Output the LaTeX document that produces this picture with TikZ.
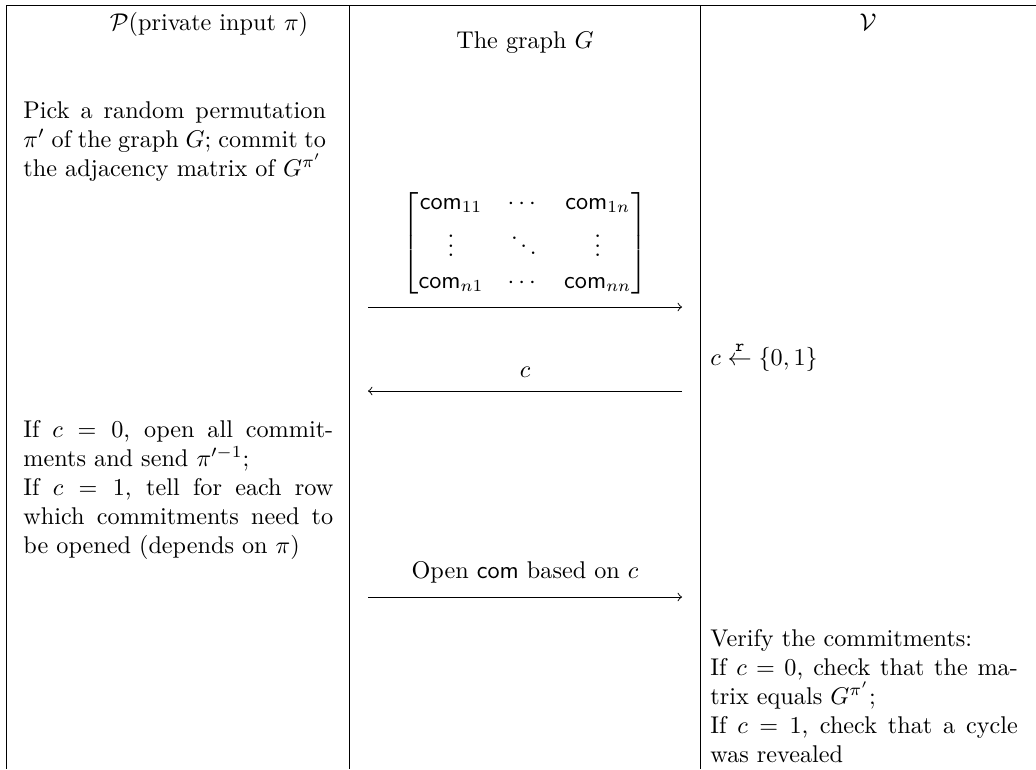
\documentclass[tikz,border=0pt]{standalone}
\usepackage{amsmath}
\usetikzlibrary{positioning}
\tikzset{
  step text/.style={inner sep=0pt, align=justify, anchor=north west},
  msg/.style={->, >=to},
}
\begin{document}
\begin{tikzpicture}[x=0.4132pt, y=-0.4132pt, line width=0.4pt]
  \useasboundingbox (0,0) rectangle (1036,769);
  % Table frame
  \draw (1036,5) -- (6,5) -- (6,769);
  \draw (349,5) -- (349,769);
  \draw (700,5) -- (700,769);

  % Column heads
  \node[anchor=base] (prover) at (209,30) {$\mathcal{P}$(private input $\pi$)};
  \node[anchor=base] (verifier) at (868,30) {$\mathcal{V}$};
  \node (graph) at (525,43) {The graph $G$};

  % Prover: commit
  \node[step text, text width=125pt] (commit) at (23,101)
    {Pick a random permutation $\pi'$ of the graph $G$; commit to the adjacency matrix of $G^{\pi'}$};

  % Message 1: the commitments
  \node (comm) at (525,243) {$\begin{bmatrix}
      \mathsf{com}_{11} & \cdots & \mathsf{com}_{1n}\\[1pt]
      \vdots & \ddots & \vdots\\[1pt]
      \mathsf{com}_{n1} & \cdots & \mathsf{com}_{nn}
    \end{bmatrix}$};
  \coordinate (p1) at (368,307);
  \coordinate (v1) at (682,307);
  \draw[msg] (p1) -- (v1);

  % Verifier: challenge
  \node[anchor=west, inner sep=0pt] (chal) at (710,357) {$c \stackrel{\mathtt{r}}{\leftarrow} \{0,1\}$};
  \coordinate (v2) at (682,391);
  \coordinate (p2) at (368,391);
  \draw[msg] (v2) -- (p2) node[midway, above=2pt] (clabel) {$c$};

  % Prover: response
  \node[step text, text width=128pt] (resp) at (23,420)
    {If $c=0$, open all commitments and send $\pi'^{-1}$;\\
     If $c=1$, tell for each row which commitments need to be opened (depends on $\pi$)};

  % Message 3: the openings
  \coordinate (p3) at (368,597);
  \coordinate (v3) at (682,597);
  \draw[msg] (p3) -- (v3) node[midway, above=2pt] (open) {Open $\mathsf{com}$ based on $c$};

  % Verifier: check
  \node[step text, text width=127pt] (check) at (710,629)
    {Verify the commitments:\\
     If $c=0$, check that the matrix equals $G^{\pi'}$;\\
     If $c=1$, check that a cycle was revealed};
\end{tikzpicture}
\end{document}
